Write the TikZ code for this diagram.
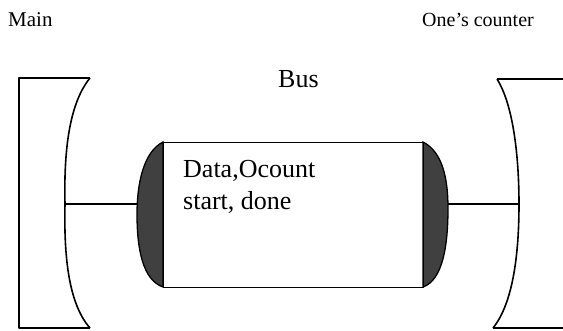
\documentclass[tikz,border=0pt]{standalone}
\usepackage{fontspec}
\setmainfont{Liberation Serif}
\begin{document}
\begin{tikzpicture}[x=1pt,y=-1pt,
  outline/.style={line width=1.6pt,line join=round},
  boxline/.style={line width=1.3pt},
  capfill/.style={fill=black!75,draw=black,line width=1.3pt},
  lbl/.style={anchor=base west,inner sep=0pt}]
\useasboundingbox (0,0) rectangle (563,330);
% coordinates
\coordinate (mainmid) at (65,204);
\coordinate (lcapmid) at (137,204);
\coordinate (rcapmid) at (448,204);
\coordinate (ocmid) at (519,204);
% Main block
\draw[outline] (90,78) -- (19,78) -- (19,328) -- (90,328);
\draw[outline] (90,78) .. controls (67,106) and (64,160) .. (mainmid)
  .. controls (64,250) and (67,302) .. (90,328);
% One's counter block
\draw[outline] (563,79) -- (497,79);
\draw[outline] (563,328) -- (493,328);
\draw[outline] (497,79) .. controls (514,106) and (519,160) .. (ocmid)
  .. controls (519,250) and (514,302) .. (493,328);
% Bus caps
\draw[capfill] (163,142) .. controls (143,152) and (137,185) .. (137,214)
  .. controls (137,250) and (143,280) .. (163,287) -- cycle;
\draw[capfill] (423,142) .. controls (443,152) and (448,180) .. (448,208)
  .. controls (448,245) and (443,280) .. (423,287) -- cycle;
% Bus box
\node[draw,boxline,minimum width=260pt,minimum height=145pt,inner sep=0pt,anchor=north west] (bus) at (163,142) {};
% connectors
\draw[line width=1.3pt] (mainmid) -- (lcapmid);
\draw[line width=1.3pt] (rcapmid) -- (ocmid);
% labels
\node[lbl,font=\fontsize{21}{25}\selectfont] (mainlbl) at (8,26) {Main};
\node[lbl,font=\fontsize{20}{24}\selectfont] (oclbl) at (422,26) {One’s counter};
\node[lbl,font=\fontsize{26}{30}\selectfont] (buslbl) at (278,87) {Bus};
\node[lbl,font=\fontsize{26}{30}\selectfont] (data1) at (183,177) {Data,Ocount};
\node[lbl,font=\fontsize{26}{30}\selectfont] (data2) at (183,209) {start, done};
\end{tikzpicture}
\end{document}
